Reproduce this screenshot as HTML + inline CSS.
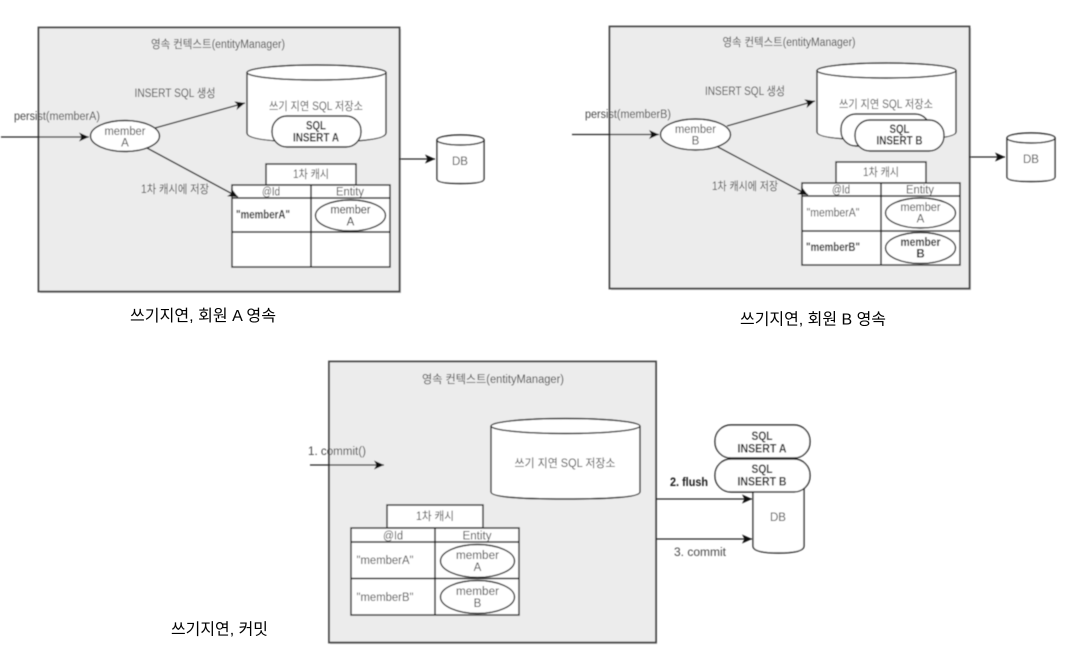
<!DOCTYPE html>
<html lang="ko"><head><meta charset="utf-8"><title>쓰기지연</title>
<style>
html,body{margin:0;padding:0;background:#fff;width:1072px;height:658px;overflow:hidden}
svg{display:block}
text{font-family:"Liberation Sans","Noto Sans CJK KR",sans-serif;font-size:11.5px;fill:#4a4a4a;text-anchor:middle}
.d{fill:#222}.b{font-weight:bold;fill:#1c1c1c}.l{text-anchor:start}
.cap{font-size:16px;fill:#000;text-anchor:start}
.box{fill:#ececec;stroke:#444;stroke-width:1.8}
.sh{fill:#bbb}
.w{fill:#fff;stroke:#222;stroke-width:1.4}
.ln{fill:none;stroke:#222;stroke-width:1.5}
.ar{fill:none;stroke:#222;stroke-width:1.3;marker-end:url(#a)}
.t{fill:#fff;stroke:#333;stroke-width:1.5}
</style></head><body>
<svg width="1072" height="658" viewBox="0 0 1072 658" xmlns="http://www.w3.org/2000/svg">
<defs>
<marker id="a" markerUnits="userSpaceOnUse" markerWidth="12" markerHeight="10" refX="10" refY="5" orient="auto"><path d="M0 0.5L10 5L0 9.500L2.500 5Z" fill="#111"/></marker>
<filter id="bl" x="-2%" y="-2%" width="104%" height="104%"><feGaussianBlur stdDeviation="0.4"/></filter>
</defs>
<g filter="url(#bl)">
<!-- Panel 1 -->
<rect class="sh" x="40" y="29" width="361" height="264"/>
<rect class="box" x="38.500" y="27.500" width="361" height="264"/>
<text x="218" y="48" textLength="134" lengthAdjust="spacingAndGlyphs">영속 컨텍스트(entityManager)</text>
<path class="w" d="M247 72V133Q247 142 316 142Q386 142 386 133V72"/>
<ellipse class="w" cx="316.500" cy="72.500" rx="69.500" ry="7.500"/>
<text x="316" y="110" textLength="94" lengthAdjust="spacingAndGlyphs">쓰기 지연 SQL 저장소</text>
<rect class="w" x="272" y="116" width="89" height="31" rx="15" ry="15"/>
<text class="b" x="316" y="129.500" textLength="20" lengthAdjust="spacingAndGlyphs">SQL</text><text class="b" x="316" y="141.500" textLength="46" lengthAdjust="spacingAndGlyphs">INSERT A</text>
<text x="175" y="97" textLength="81" lengthAdjust="spacingAndGlyphs">INSERT SQL 생성</text>
<text x="57" y="120" textLength="86" lengthAdjust="spacingAndGlyphs">persist(memberA)</text>
<text x="175" y="193" textLength="68" lengthAdjust="spacingAndGlyphs">1차 캐시에 저장</text>
<path class="ar" d="M1 137H89"/>
<ellipse class="w" cx="125" cy="136" rx="34.500" ry="15.500"/>
<text x="125" y="135" textLength="41" lengthAdjust="spacingAndGlyphs">member</text><text x="125" y="146.500">A</text>
<path class="ar" d="M155 128L245 103"/>
<rect class="t" x="266" y="164" width="90" height="21"/>
<text x="311" y="178" textLength="36" lengthAdjust="spacingAndGlyphs">1차 캐시</text>
<rect class="t" x="232" y="185" width="158" height="82"/>
<path class="ln" d="M232 198H390M232 232H390M311 185V267"/>
<text x="271" y="195.500" textLength="18" lengthAdjust="spacingAndGlyphs">@Id</text><text x="350" y="195.500" textLength="28" lengthAdjust="spacingAndGlyphs">Entity</text>
<text class="b" x="263" y="218.500" textLength="54" lengthAdjust="spacingAndGlyphs">"memberA"</text>
<ellipse class="w" cx="350.500" cy="215.500" rx="35" ry="15.500"/>
<text class="d" x="350.500" y="213.500" textLength="40" lengthAdjust="spacingAndGlyphs">member</text><text class="d" x="350.500" y="225.500">A</text>
<path class="ar" d="M147 148L238 197"/>
<path class="ar" d="M399 159H435"/>
<path class="w" d="M437 140V179Q437 183.500 460.500 183.500Q484 183.500 484 179V140" stroke-width="1.700"/>
<ellipse class="w" cx="460.500" cy="140" rx="23.500" ry="5"/>
<text x="460" y="165">DB</text>

<!-- Panel 2 -->
<rect class="sh" x="611" y="28" width="360" height="262"/>
<rect class="box" x="609.500" y="26.500" width="360" height="262"/>
<text x="789" y="46" textLength="133" lengthAdjust="spacingAndGlyphs">영속 컨텍스트(entityManager)</text>
<path class="w" d="M817 70V132Q817 140 886 140Q956 140 956 132V70"/>
<ellipse class="w" cx="886.500" cy="70.500" rx="69.500" ry="7.500"/>
<text x="886" y="108" textLength="94" lengthAdjust="spacingAndGlyphs">쓰기 지연 SQL 저장소</text>
<rect class="w" x="841" y="114" width="89" height="32" rx="15" ry="15"/>
<rect class="w" x="855" y="120" width="89" height="31" rx="15" ry="15"/>
<text class="b" x="899.500" y="133" textLength="20" lengthAdjust="spacingAndGlyphs">SQL</text><text class="b" x="899.500" y="144.500" textLength="46" lengthAdjust="spacingAndGlyphs">INSERT B</text>
<text x="745" y="95" textLength="80" lengthAdjust="spacingAndGlyphs">INSERT SQL 생성</text>
<text x="628" y="118" textLength="86" lengthAdjust="spacingAndGlyphs">persist(memberB)</text>
<text x="745" y="190" textLength="66" lengthAdjust="spacingAndGlyphs">1차 캐시에 저장</text>
<path class="ar" d="M572 134.500H659"/>
<ellipse class="w" cx="695.500" cy="134.500" rx="35" ry="15.500"/>
<text x="695.500" y="133" textLength="41" lengthAdjust="spacingAndGlyphs">member</text><text x="695.500" y="144.500">B</text>
<path class="ar" d="M727 126L815 101"/>
<rect class="t" x="836" y="162" width="90" height="21"/>
<text x="881" y="176" textLength="36" lengthAdjust="spacingAndGlyphs">1차 캐시</text>
<rect class="t" x="802" y="183" width="158" height="82"/>
<path class="ln" d="M802 196H960M802 231H960M881 183V265"/>
<text x="841" y="193.500" textLength="18" lengthAdjust="spacingAndGlyphs">@Id</text><text x="920" y="193.500" textLength="28" lengthAdjust="spacingAndGlyphs">Entity</text>
<text x="833" y="216.500" textLength="53" lengthAdjust="spacingAndGlyphs">"memberA"</text>
<ellipse class="w" cx="920.500" cy="213" rx="35" ry="15"/>
<text x="920.500" y="211" textLength="40" lengthAdjust="spacingAndGlyphs">member</text><text x="920.500" y="222.500">A</text>
<text class="b" x="833" y="251" textLength="54" lengthAdjust="spacingAndGlyphs">"memberB"</text>
<ellipse class="w" cx="920.500" cy="248" rx="35" ry="15.500" stroke-width="1.700"/>
<text class="b" x="920.500" y="246" textLength="40" lengthAdjust="spacingAndGlyphs">member</text><text class="b" x="920.500" y="257.500">B</text>
<path class="ar" d="M718 147L808 195"/>
<path class="ar" d="M969 157H1005"/>
<path class="w" d="M1007 138V177Q1007 181.500 1031 181.500Q1055 181.500 1055 177V138" stroke-width="1.700"/>
<ellipse class="w" cx="1031" cy="138" rx="24" ry="5"/>
<text x="1031" y="163">DB</text>

<!-- Panel 3 -->
<rect class="sh" x="330" y="363" width="327" height="281"/>
<rect class="box" x="329" y="361.500" width="327" height="281"/>
<text x="493" y="383" textLength="142" lengthAdjust="spacingAndGlyphs">영속 컨텍스트(entityManager)</text>
<path class="w" d="M491 426V492Q491 499 565 499Q640 499 640 492V426"/>
<ellipse class="w" cx="565.500" cy="426" rx="74.500" ry="7.500"/>
<text x="565" y="467" textLength="101" lengthAdjust="spacingAndGlyphs">쓰기 지연 SQL 저장소</text>
<text x="337" y="455" textLength="58" lengthAdjust="spacingAndGlyphs">1. commit()</text>
<path class="ar" d="M310 465H384"/>
<rect class="t" x="387" y="505" width="96" height="23"/>
<text x="435" y="520" textLength="38" lengthAdjust="spacingAndGlyphs">1차 캐시</text>
<rect class="t" x="351" y="528" width="168" height="87"/>
<path class="ln" d="M351 542H519M351 578.500H519M435 528V615"/>
<text x="393" y="539.500" textLength="20" lengthAdjust="spacingAndGlyphs">@Id</text><text x="477" y="539.500" textLength="29" lengthAdjust="spacingAndGlyphs">Entity</text>
<text x="385" y="564" textLength="57" lengthAdjust="spacingAndGlyphs">"memberA"</text>
<ellipse class="w" cx="477.500" cy="561" rx="37" ry="16.500"/>
<text x="477.500" y="559" textLength="43" lengthAdjust="spacingAndGlyphs">member</text><text x="477.500" y="571">A</text>
<text x="385" y="601" textLength="57" lengthAdjust="spacingAndGlyphs">"memberB"</text>
<ellipse class="w" cx="477.500" cy="597" rx="37" ry="16.500"/>
<text x="477.500" y="595" textLength="43" lengthAdjust="spacingAndGlyphs">member</text><text x="477.500" y="607">B</text>
<path class="w" d="M753 480V546Q753 553 778.500 553Q804 553 804 546V480" stroke-width="1.700"/>
<text x="778" y="521">DB</text>
<rect class="w" x="715" y="425" width="95" height="33" rx="16" ry="16"/>
<rect class="w" x="715" y="459" width="95" height="33" rx="16" ry="16"/>
<text class="b" x="762" y="440" textLength="21" lengthAdjust="spacingAndGlyphs">SQL</text><text class="b" x="762" y="452.500" textLength="49" lengthAdjust="spacingAndGlyphs">INSERT A</text>
<text class="b" x="762" y="473" textLength="21" lengthAdjust="spacingAndGlyphs">SQL</text><text class="b" x="762" y="485.500" textLength="49" lengthAdjust="spacingAndGlyphs">INSERT B</text>
<path class="ar" d="M656 499H752"/>
<path class="ar" d="M656 539H752"/>
<text class="b l" x="670" y="486" textLength="38" lengthAdjust="spacingAndGlyphs">2. flush</text>
<text class="l" x="674" y="556" textLength="52" lengthAdjust="spacingAndGlyphs">3. commit</text>
</g>
<text class="cap" x="130" y="321" textLength="146" lengthAdjust="spacingAndGlyphs">쓰기지연, 회원 A 영속</text>
<text class="cap" x="740" y="324.500" textLength="146" lengthAdjust="spacingAndGlyphs">쓰기지연, 회원 B 영속</text>
<text class="cap" x="171" y="634.500" textLength="97" lengthAdjust="spacingAndGlyphs">쓰기지연, 커밋</text>
</svg>
</body></html>
